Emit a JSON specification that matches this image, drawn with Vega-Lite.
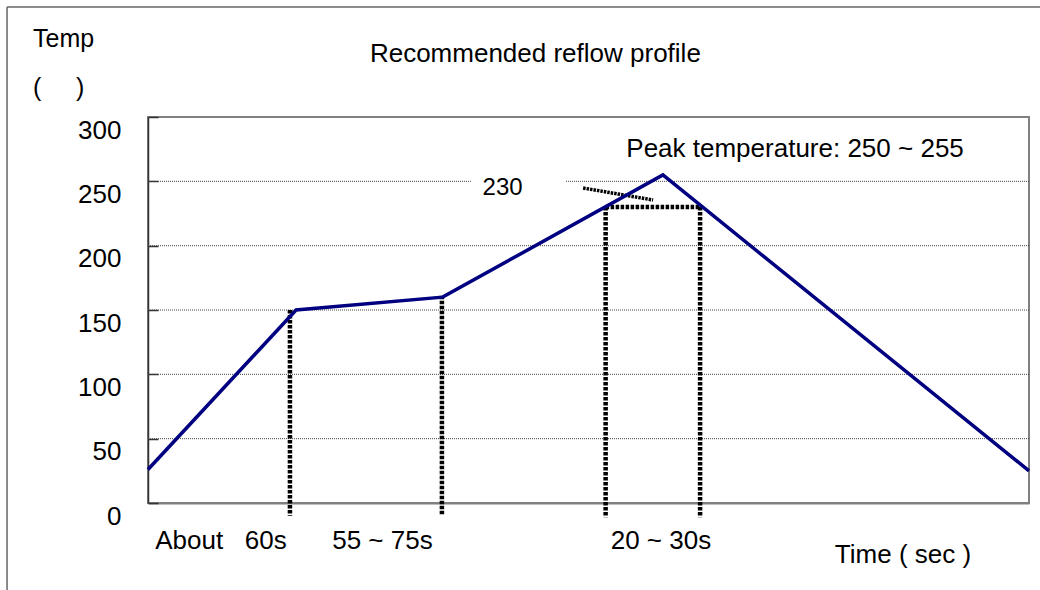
{
  "$schema": "https://vega.github.io/schema/vega-lite/v6.json",
  "width": 881,
  "height": 386,
  "autosize": {"type": "none"},
  "padding": {"left": 148, "top": 117, "right": 11, "bottom": 87},
  "background": "white",
  "config": {
    "view": {"stroke": "#808080", "strokeWidth": 2},
    "font": "Liberation Sans",
    "text": {"font": "Liberation Sans", "color": "black"}
  },
  "datasets": {
    "profile": [
      {"t": 0, "T": 26},
      {"t": 60.5, "T": 150},
      {"t": 120.4, "T": 160},
      {"t": 210.4, "T": 255},
      {"t": 360, "T": 25}
    ],
    "grid": [
      {"t": 0, "t2": 360, "T": 50},
      {"t": 0, "t2": 360, "T": 100},
      {"t": 0, "t2": 360, "T": 150},
      {"t": 0, "t2": 360, "T": 200},
      {"t": 0, "t2": 131.9, "T": 250},
      {"t": 170.8, "t2": 360, "T": 250}
    ],
    "markers": [
      {"t": 58.0, "T": 150, "t2": 58.0, "T2": -10},
      {"t": 120.1, "T": 161, "t2": 120.1, "T2": -10},
      {"t": 187.0, "T": 230, "t2": 187.0, "T2": -11},
      {"t": 225.6, "T": 230, "t2": 225.6, "T2": -11},
      {"t": 187.0, "T": 230, "t2": 225.6, "T2": 230}
    ],
    "leader": [
      {"t": 177.8, "T": 244.8, "t2": 206.4, "T2": 235.5}
    ],
    "frame": [
      {"t": -57.6, "T": 385.5, "t2": -57.6, "T2": -200},
      {"t": -57.6, "T": 385.5, "t2": 500, "T2": 385.5}
    ],
    "centerText": [
      {"label": "Recommended reflow profile", "t": 158.3, "T": 342.7},
      {"label": "Peak temperature: 250 ~ 255", "t": 264.4, "T": 268.9},
      {"label": "About\u00a0\u00a0 60s", "t": 29.8, "T": -35.8},
      {"label": "55 ~ 75s", "t": 95.8, "T": -35.8},
      {"label": "20 ~ 30s", "t": 209.6, "T": -35.8},
      {"label": "Time ( sec )", "t": 308.5, "T": -46.6}
    ],
    "leftText": [
      {"label": "Temp", "t": -47, "T": 354.4},
      {"label": "(\u00a0\u00a0\u00a0\u00a0 )", "t": -47, "T": 316.3}
    ],
    "smallText": [
      {"label": "230", "t": 144.9, "T": 239.4}
    ]
  },
  "layer": [
    {
      "data": {"name": "frame"},
      "mark": {"type": "rule", "color": "#666666", "strokeWidth": 1.5, "clip": false},
      "encoding": {
        "x": {"field": "t", "type": "quantitative", "scale": {"domain": [0, 360], "nice": false, "zero": false}, "axis": {"labels": false, "ticks": false, "title": null, "domainColor": "#808080", "domainWidth": 2, "grid": false}},
        "y": {"field": "T", "type": "quantitative", "scale": {"domain": [0, 300], "nice": false, "zero": false}, "axis": {"values": [0, 50, 100, 150, 200, 250, 300], "title": null, "grid": false, "labelFontSize": 26, "labelFont": "Liberation Sans", "labelColor": "black", "labelBaseline": "alphabetic", "labelOffset": 21, "labelPadding": 37, "tickSize": -10, "tickColor": "#333333", "tickWidth": 1.5, "domainColor": "#333333", "domainWidth": 1.5}},
        "x2": {"field": "t2"},
        "y2": {"field": "T2"}
      }
    },
    {
      "data": {"name": "grid"},
      "mark": {"type": "rule", "color": "#444444", "strokeWidth": 1, "strokeDash": [1, 1]},
      "encoding": {
        "x": {"field": "t", "type": "quantitative", "scale": {"domain": [0, 360], "nice": false, "zero": false}},
        "x2": {"field": "t2"},
        "y": {"field": "T", "type": "quantitative", "scale": {"domain": [0, 300], "nice": false, "zero": false}}
      }
    },
    {
      "data": {"name": "markers"},
      "mark": {"type": "rule", "color": "black", "strokeWidth": 4.5, "strokeDash": [3.5, 1.5], "clip": false},
      "encoding": {
        "x": {"field": "t", "type": "quantitative", "scale": {"domain": [0, 360], "nice": false, "zero": false}},
        "x2": {"field": "t2"},
        "y": {"field": "T", "type": "quantitative", "scale": {"domain": [0, 300], "nice": false, "zero": false}},
        "y2": {"field": "T2"}
      }
    },
    {
      "data": {"name": "leader"},
      "mark": {"type": "rule", "color": "black", "strokeWidth": 3.5, "strokeDash": [2.5, 1]},
      "encoding": {
        "x": {"field": "t", "type": "quantitative", "scale": {"domain": [0, 360], "nice": false, "zero": false}},
        "x2": {"field": "t2"},
        "y": {"field": "T", "type": "quantitative", "scale": {"domain": [0, 300], "nice": false, "zero": false}},
        "y2": {"field": "T2"}
      }
    },
    {
      "data": {"name": "profile"},
      "mark": {"type": "line", "color": "#000080", "strokeWidth": 3.5},
      "encoding": {
        "x": {"field": "t", "type": "quantitative", "scale": {"domain": [0, 360], "nice": false, "zero": false}},
        "y": {"field": "T", "type": "quantitative", "scale": {"domain": [0, 300], "nice": false, "zero": false}}
      }
    },
    {
      "data": {"name": "centerText"},
      "mark": {"type": "text", "fontSize": 26, "align": "center", "baseline": "alphabetic", "clip": false},
      "encoding": {
        "x": {"field": "t", "type": "quantitative", "scale": {"domain": [0, 360], "nice": false, "zero": false}},
        "y": {"field": "T", "type": "quantitative", "scale": {"domain": [0, 300], "nice": false, "zero": false}},
        "text": {"field": "label"}
      }
    },
    {
      "data": {"name": "leftText"},
      "mark": {"type": "text", "fontSize": 25, "align": "left", "baseline": "alphabetic", "clip": false},
      "encoding": {
        "x": {"field": "t", "type": "quantitative", "scale": {"domain": [0, 360], "nice": false, "zero": false}},
        "y": {"field": "T", "type": "quantitative", "scale": {"domain": [0, 300], "nice": false, "zero": false}},
        "text": {"field": "label"}
      }
    },
    {
      "data": {"name": "smallText"},
      "mark": {"type": "text", "fontSize": 24, "align": "center", "baseline": "alphabetic", "clip": false},
      "encoding": {
        "x": {"field": "t", "type": "quantitative", "scale": {"domain": [0, 360], "nice": false, "zero": false}},
        "y": {"field": "T", "type": "quantitative", "scale": {"domain": [0, 300], "nice": false, "zero": false}},
        "text": {"field": "label"}
      }
    }
  ]
}
